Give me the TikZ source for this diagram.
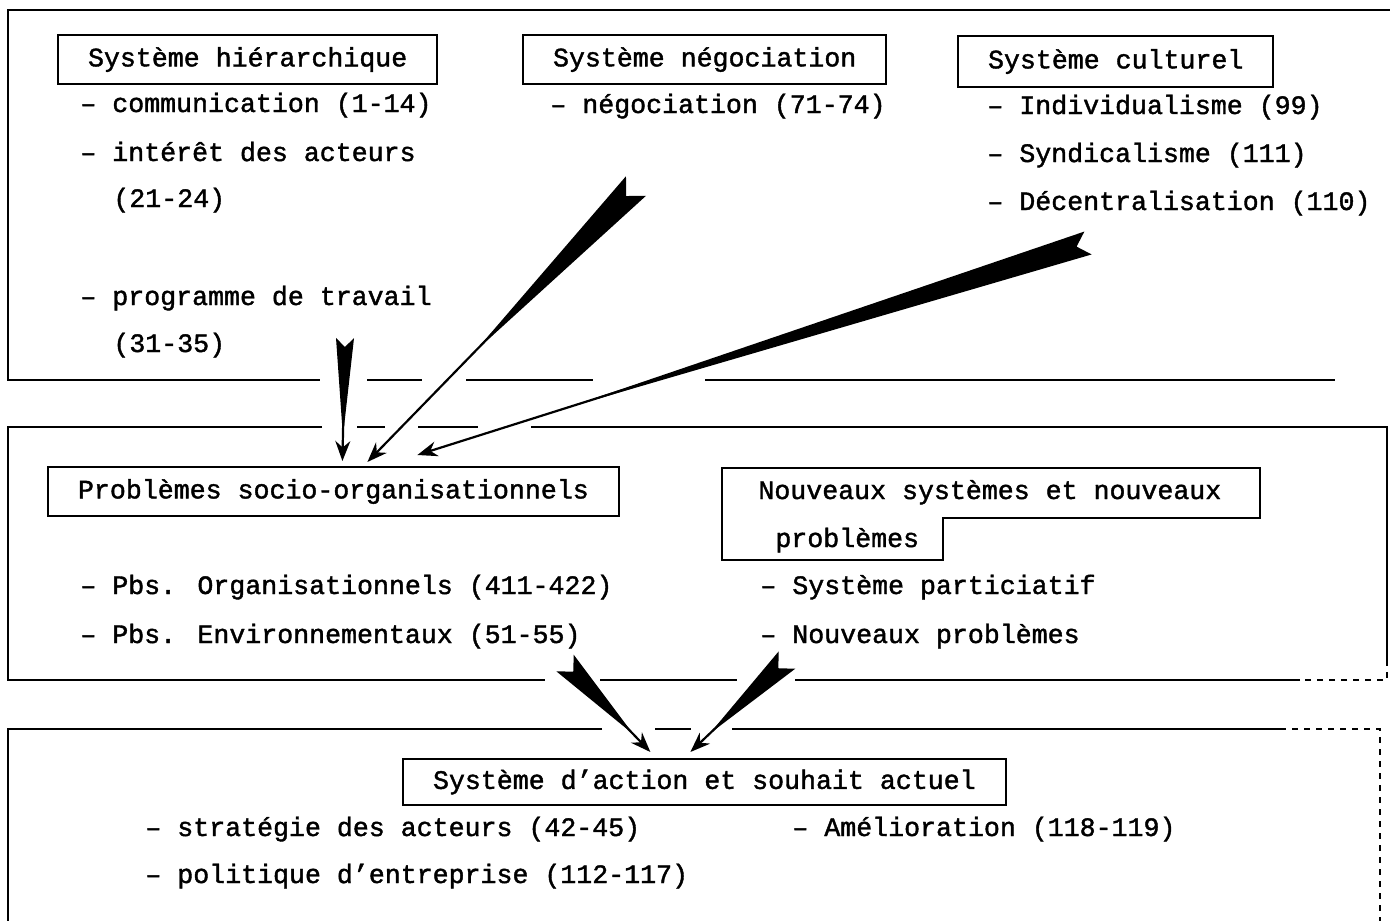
\documentclass[tikz,border=0pt]{standalone}
\usepackage{fontspec}
\setmainfont{Liberation Mono}[FakeBold=1.5]
\usetikzlibrary{calc,arrows.meta}

\newcommand{\typo}{\fontsize{13.3pt}{24pt}\selectfont}
% quill arrow: tail, tip, half width, taper
\newcommand{\plume}[4]{%
  \fill ($(#1)!#3!90:(#2)$) -- ($(#1)!#3!(#2)$) -- ($(#1)!#3!-90:(#2)$)
    -- ($(#1)!#4!(#2)$) -- cycle;
  \draw[trait] ($(#1)!#3!(#2)$) -- (#2);
}

\begin{document}
\begin{tikzpicture}%
[x=0.5pt, y=-0.5pt, every node/.style={font=\typo, inner sep=0pt},
boite/.style={draw, line width=1pt, inner xsep=15pt, minimum height=24.5pt,
anchor=north west},
item/.style={anchor=base west},
cadre/.style={line width=1.1pt},
trait/.style={line width=1.1pt, -{Stealth[length=10pt,width=7.5pt]}}]
\useasboundingbox (0,0) rectangle (1390,921);
% panel frames
\draw[cadre] (1390,10) -- (8,10) -- (8,380) -- (320,380);
\draw[cadre] (367,380) -- (422,380);
\draw[cadre] (466,380) -- (593,380);
\draw[cadre] (705,380) -- (1335,380);
\draw[cadre] (322,427) -- (8,427) -- (8,680) -- (545,680);
\draw[cadre] (357,427) -- (385,427);
\draw[cadre] (418,427) -- (478,427);
\draw[cadre] (531,427) -- (1387,427) -- (1387,660);
\draw[cadre, dashed] (1387,660) -- (1387,680) -- (1300,680);
\draw[cadre] (1300,680) -- (795,680);
\draw[cadre] (600,680) -- (737,680);
\draw[cadre] (602,729) -- (8,729) -- (8,921);
\draw[cadre] (655,729) -- (691,729);
\draw[cadre] (732,729) -- (1280,729);
\draw[cadre, dashed] (1280,729) -- (1380,729) -- (1380,921);
% top panel
\node[boite] (sysHier) at (57,34) {Système hiérarchique};
\node[item] (hierComm) at (80,112) {– communication (1-14)};
\node[item] (hierInt) at (80,161) {– intérêt des acteurs};
\node[item] (hierIntNum) at (113,207) {(21-24)};
\node[item] (hierProg) at (80,305) {– programme de travail};
\node[item] (hierProgNum) at (113,352) {(31-35)};
\node[boite] (sysNego) at (522,34) {Système négociation};
\node[item] (negoNeg) at (550,113) {– négociation (71-74)};
\node[boite, minimum height=25.5pt] (sysCult) at (957,35) {Système culturel};
\node[item] (cultInd) at (987,114) {– Individualisme (99)};
\node[item] (cultSynd) at (987,162) {– Syndicalisme (111)};
\node[item] (cultDec) at (987,210) {– Décentralisation (110)};
% middle panel
\node[boite] (probSocio) at (47,466) {Problèmes socio-organisationnels};
\node[item] (nouvSys) at (758,499) {Nouveaux systèmes et nouveaux};
\node[item] (nouvSysB) at (775,547) {problèmes};
\draw[line width=1pt] (722,468) -- (1260,468) -- (1260,518) -- (943,518) --
(943,560) -- (722,560) -- cycle;
\node[item] (probOrg) at (80,594) {– Pbs. Organisationnels (411-422)};
\node[item] (probEnv) at (80,643) {– Pbs. Environnementaux (51-55)};
\node[item] (nouvPart) at (760,594) {– Système particiatif};
\node[item] (nouvProb) at (760,643) {– Nouveaux problèmes};
% bottom panel
\node[boite, minimum height=23pt] (sysAction) at (402,758) {Système d'action et souhait actuel};
\node[item] (actStrat) at (145,836) {– stratégie des acteurs (42-45)};
\node[item] (actPol) at (145,883) {– politique d'entreprise (112-117)};
\node[item] (actAmel) at (792,836) {– Amélioration (118-119)};
% arrows
\coordinate (qHier) at (345,338);
\coordinate (qNego) at (636,186);
\coordinate (qCult) at (1088,243);
\coordinate (qProb) at (565,663);
\coordinate (qNouv) at (787,660);
\coordinate (hHier) at ($(probSocio.north)+(9,-5)$);
\coordinate (hNego) at ($(probSocio.north)+(34,-4)$);
\coordinate (hCult) at ($(probSocio.north)+(84,-11)$);
\coordinate (hProb) at ($(sysAction.north)+(-54,-6)$);
\coordinate (hNouv) at ($(sysAction.north)+(-14,-6)$);
\plume{qHier}{hHier}{4.5pt}{0.8}
\plume{qNego}{hNego}{7pt}{0.6}
\plume{qCult}{hCult}{6pt}{0.78}
\plume{qProb}{hProb}{6pt}{0.8}
\plume{qNouv}{hNouv}{6pt}{0.8}
\end{tikzpicture}
\end{document}
